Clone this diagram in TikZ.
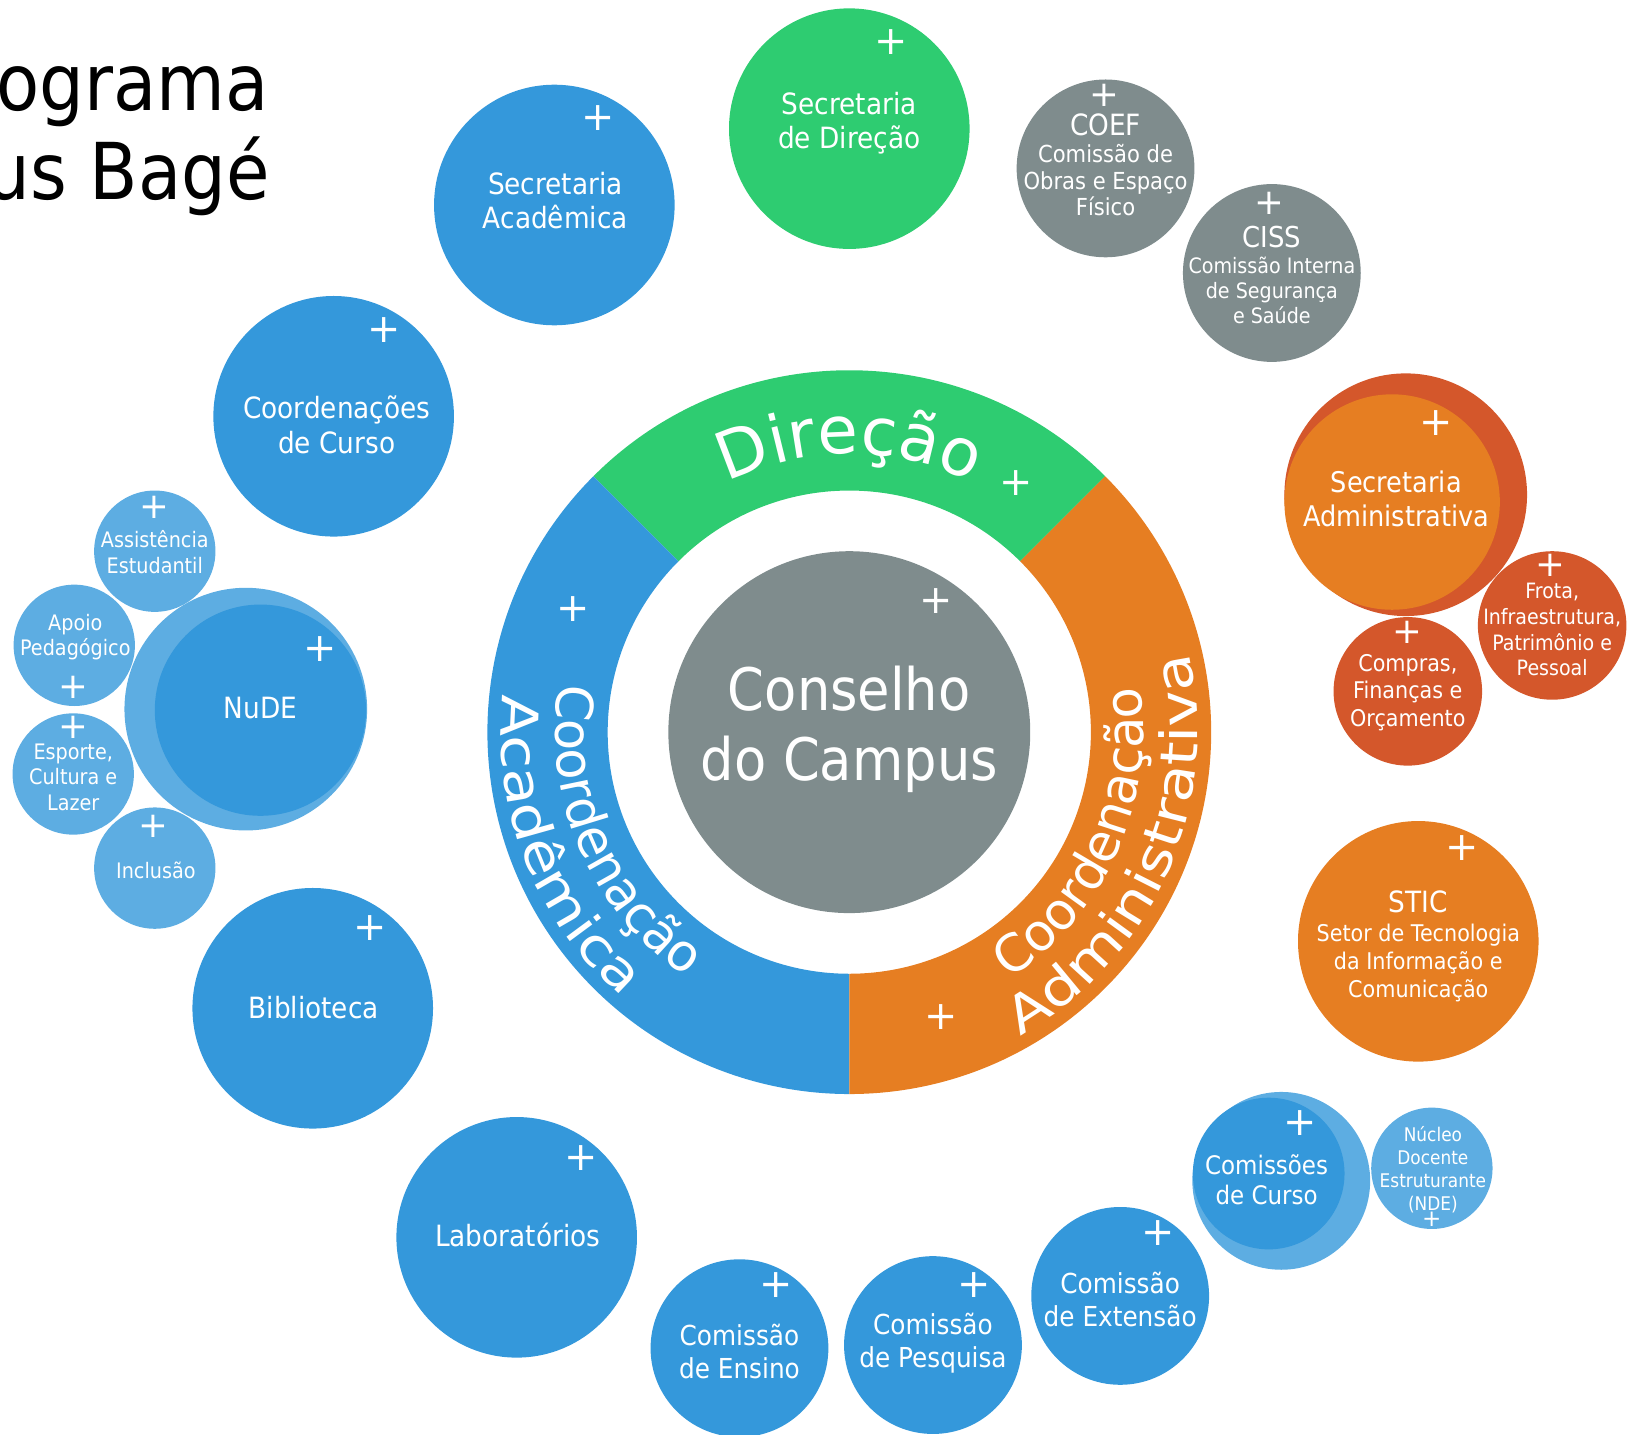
\documentclass[tikz,border=0pt]{standalone}
\usepackage{fontspec}
\setmainfont{DejaVu Sans}[FakeStretch=0.9]
\newfontfamily\plusfont{DejaVu Sans}
\newfontfamily\ringfont{DejaVu Sans}
\newfontfamily\ringwide{DejaVu Sans}[FakeStretch=1.2]
\usetikzlibrary{decorations.text}

\definecolor{azul}{HTML}{3498DB}
\definecolor{azulclaro}{HTML}{5DADE2}
\definecolor{verde}{HTML}{2ECC71}
\definecolor{cinza}{HTML}{7F8C8D}
\definecolor{laranja}{HTML}{E67E22}
\definecolor{abobora}{HTML}{D4572B}

\begin{document}
\begin{tikzpicture}[x=1pt, y=1pt,
    bubble/.style={circle, inner sep=0pt, minimum size=2*#1},
    txt/.style={text=white, align=center, inner sep=0pt, font=\fontsize{28}{33}\selectfont},
    txtsm/.style={txt, font=\fontsize{20.4}{24.5}\selectfont},
    plus/.style={text=white, inner sep=0pt, font=\plusfont\fontsize{38}{38}\selectfont},
    plussm/.style={plus, font=\plusfont\fontsize{34}{34}\selectfont},
    titulo/.style={text=black, inner sep=0pt, font=\fontsize{75}{80}\selectfont},
    ringtext/.style={decorate, decoration={text along path, text align=center,
                     text color=white, text={#1}}},
  ]
  \useasboundingbox (0,0) rectangle (1568,-1372);

  % titulo
  \node[titulo, anchor=base east] (tit1) at (257,-106) {Organograma};
  \node[titulo, anchor=base east] (tit2) at (258,-191) {Campus Bagé};

  % anel
  \begin{scope}[shift={(812,-700)}]
    \fill[verde] (45:346) arc[start angle=45, end angle=135, radius=346]
      -- (135:231) arc[start angle=135, end angle=45, radius=231] -- cycle;
    \fill[azul] (135:346) arc[start angle=135, end angle=270, radius=346]
      -- (270:231) arc[start angle=270, end angle=135, radius=231] -- cycle;
    \fill[laranja] (270:346) arc[start angle=270, end angle=405, radius=346]
      -- (45:231) arc[start angle=405, end angle=270, radius=231] -- cycle;
    \path[ringtext={|\ringfont\fontsize{63}{63}\selectfont|Direção}]
      (150:266) arc[start angle=150, end angle=30, radius=266];
    \path[ringtext={|\ringfont\fontsize{49}{49}\selectfont|Coordenação}]
      (143.5:281) arc[start angle=143.5, end angle=263.5, radius=281];
    \path[ringtext={|\ringwide\fontsize{49}{49}\selectfont|Acadêmica}]
      (141.7:333) arc[start angle=141.7, end angle=261.7, radius=333];
    \path[ringtext={|\ringfont\fontsize{49}{49}\selectfont|Coordenação}]
      (-84:281) arc[start angle=-84, end angle=36, radius=281];
    \path[ringtext={|\ringwide\fontsize{49}{49}\selectfont|Administrativa}]
      (-83.7:333) arc[start angle=-83.7, end angle=36.3, radius=333];
  \end{scope}
  \node[plus] (direcao-p) at (972,-462) {+};
  \node[plus] (cacad-p) at (548,-582) {+};
  \node[plus] (cadm-p) at (900,-972) {+};

  % conselho
  \node[bubble=173, fill=cinza] (conselho) at (812,-700) {};
  \node[txt, font=\fontsize{56}{67}\selectfont] (conselho-t) at (812,-697) {Conselho\\do Campus};
  \node[plus] (conselho-p) at (895,-575) {+};

  % direcao
  \node[bubble=115, fill=verde] (secdir) at (812,-123) {};
  \node[txt] (secdir-t) at (812,-118) {Secretaria\\de Direção};
  \node[plus] (secdir-p) at (852,-40) {+};

  \node[bubble=85, fill=cinza] (coef) at (1057,-161) {};
  \node[txt, font=\fontsize{22.4}{25.5}\selectfont] (coef-t) at (1057,-158)
    {{\fontsize{28}{30}\selectfont COEF}\\Comissão de\\Obras e Espaço\\Físico};
  \node[plussm] (coef-p) at (1056,-91) {+};

  \node[bubble=85, fill=cinza] (ciss) at (1216,-261) {};
  \node[txt, font=\fontsize{20.3}{24}\selectfont] (ciss-t) at (1216,-263)
    {{\fontsize{27.5}{30}\selectfont CISS}\\Comissão Interna\\de Segurança\\e Saúde};
  \node[plussm] (ciss-p) at (1214,-194) {+};

  % academica
  \node[bubble=115, fill=azul] (secacad) at (530,-196) {};
  \node[txt] (secacad-t) at (531,-192) {Secretaria\\Acadêmica};
  \node[plus] (secacad-p) at (572,-113) {+};

  \node[bubble=115, fill=azul] (coordcurso) at (319,-398) {};
  \node[txt] (coordcurso-t) at (322,-406) {Coordenações\\de Curso};
  \node[plus] (coordcurso-p) at (367,-316) {+};

  \node[bubble=116, fill=azulclaro] (nude-fundo) at (235,-678) {};
  \node[bubble=101, fill=azul] (nude) at (249,-679) {};
  \node[txt] (nude-t) at (249,-677) {NuDE};
  \node[plus] (nude-p) at (306,-621) {+};

  \node[bubble=58, fill=azulclaro] (assist) at (148,-527) {};
  \node[txtsm] (assist-t) at (148,-528) {Assistência\\Estudantil};
  \node[plussm] (assist-p) at (148,-485) {+};

  \node[bubble=58, fill=azulclaro] (apoio) at (71,-617) {};
  \node[txtsm] (apoio-t) at (72,-609) {Apoio\\Pedagógico};
  \node[plussm] (apoio-p) at (70,-657) {+};

  \node[bubble=58, fill=azulclaro] (esporte) at (70,-740) {};
  \node[txtsm] (esporte-t) at (70,-743) {Esporte,\\Cultura e\\Lazer};
  \node[plussm] (esporte-p) at (70,-695) {+};

  \node[bubble=58, fill=azulclaro] (inclusao) at (148,-830) {};
  \node[txtsm] (inclusao-t) at (149,-832) {Inclusão};
  \node[plussm] (inclusao-p) at (147,-790) {+};

  \node[bubble=115, fill=azul] (biblio) at (299,-964) {};
  \node[txt] (biblio-t) at (300,-963) {Biblioteca};
  \node[plus] (biblio-p) at (354,-887) {+};

  \node[bubble=115, fill=azul] (labs) at (494,-1183) {};
  \node[txt] (labs-t) at (495,-1181) {Laboratórios};
  \node[plus] (labs-p) at (556,-1107) {+};

  \node[bubble=85, fill=azul] (ensino) at (707,-1289) {};
  \node[txt, font=\fontsize{26.3}{31.5}\selectfont] (ensino-t) at (707,-1292) {Comissão\\de Ensino};
  \node[plus] (ensino-p) at (742,-1229) {+};

  \node[bubble=85, fill=azul] (pesquisa) at (892,-1286) {};
  \node[txt, font=\fontsize{26.3}{31.5}\selectfont] (pesquisa-t) at (892,-1284) {Comissão\\de Pesquisa};
  \node[plus] (pesquisa-p) at (931,-1229) {+};

  \node[bubble=85, fill=azul] (extensao) at (1071,-1239) {};
  \node[txt, font=\fontsize{26.3}{31.5}\selectfont] (extensao-t) at (1071,-1242) {Comissão\\de Extensão};
  \node[plus] (extensao-p) at (1107,-1179) {+};

  \node[bubble=85, fill=azulclaro] (comcurso-fundo) at (1225,-1129) {};
  \node[bubble=72.5, fill=azul] (comcurso) at (1213,-1122) {};
  \node[txt, font=\fontsize{24.4}{29}\selectfont] (comcurso-t) at (1211,-1128) {Comissões\\de Curso};
  \node[plus] (comcurso-p) at (1243,-1074) {+};

  \node[bubble=58, fill=azulclaro] (nde) at (1369,-1117) {};
  \node[txt, font=\fontsize{18}{22}\selectfont] (nde-t) at (1370,-1118) {Núcleo\\Docente\\Estruturante\\(NDE)};
  \node[plus, font=\plusfont\fontsize{22}{22}\selectfont] (nde-p) at (1369,-1166) {+};

  % administrativa
  \node[bubble=116, fill=abobora] (secadm-fundo) at (1344,-473) {};
  \node[bubble=103, fill=laranja] (secadm) at (1331,-480) {};
  \node[txt, font=\fontsize{27.2}{33}\selectfont] (secadm-t) at (1335,-477) {Secretaria\\Administrativa};
  \node[plus] (secadm-p) at (1373,-404) {+};

  \node[bubble=71, fill=abobora] (frota) at (1484,-598) {};
  \node[txt, font=\fontsize{20.2}{24.5}\selectfont] (frota-t) at (1484,-602)
    {Frota,\\Infraestrutura,\\Patrimônio e\\Pessoal};
  \node[plussm] (frota-p) at (1482,-541) {+};

  \node[bubble=71, fill=abobora] (compras) at (1346,-661) {};
  \node[txt, font=\fontsize{22}{26.5}\selectfont] (compras-t) at (1346,-662)
    {Compras,\\Finanças e\\Orçamento};
  \node[plussm] (compras-p) at (1346,-605) {+};

  \node[bubble=115, fill=laranja] (stic) at (1356,-900) {};
  \node[txt, font=\fontsize{22}{27}\selectfont] (stic-t) at (1356,-905)
    {{\fontsize{28}{30}\selectfont STIC}\\Setor de Tecnologia\\da Informação e\\Comunicação};
  \node[plus] (stic-p) at (1398,-811) {+};
\end{tikzpicture}
\end{document}
